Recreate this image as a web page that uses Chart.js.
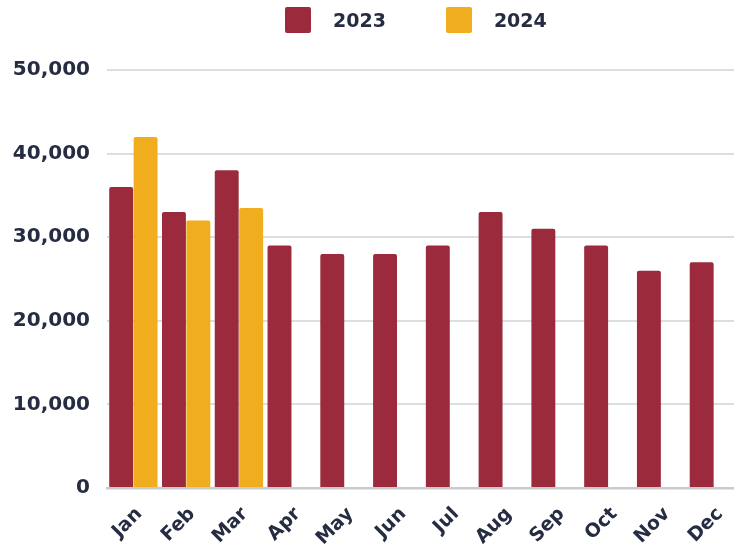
<!DOCTYPE html>
<html>
<head>
<meta charset="utf-8">
<script src="https://cdn.jsdelivr.net/npm/chart.js@4"></script>
<style>
  html, body { margin: 0; padding: 0; background: #fff; overflow: hidden; }
  #wrap { position: absolute; left: 0; top: 0; width: 745px; height: 548px; }
  #legend {
    position: absolute; left: 285px; top: 7px; display: flex; align-items: center;
    font: bold 19px "DejaVu Sans", sans-serif; color: #262d43;
  }
  #legend .item { display: flex; align-items: center; margin-right: 60px; }
  #legend .box { width: 26px; height: 26px; border-radius: 2px; margin-right: 22px; }
</style>
</head>
<body>
<div id="wrap"><canvas id="chart"></canvas></div>
<div id="legend"></div>
<script>
const months = ["Jan", "Feb", "Mar", "Apr", "May", "Jun", "Jul", "Aug", "Sep", "Oct", "Nov", "Dec"]
const sales2023 = [36000, 33000, 38000, 29000, 28000, 28000, 29000, 33000, 31000, 29000, 26000, 27000]
const sales2024 = [42000, 32000, 33500]
const yTicks = [0, 10000, 20000, 30000, 40000, 50000]

const MAROON = "#9b2b3c"
const GOLD = "#f0ad1e"
const TEXT = "#262d43"
const family = "'DejaVu Sans', sans-serif"

const chart = new Chart(document.getElementById("chart"), {
  type: "bar",
  data: {
    labels: months,
    datasets: [
      { label: "2023", data: sales2023, backgroundColor: MAROON },
      { label: "2024", data: sales2024, backgroundColor: GOLD },
    ],
  },
  options: {
    responsive: true,
    maintainAspectRatio: false,
    animation: false,
    categoryPercentage: 0.925,
    barPercentage: 0.98,
    borderRadius: 2,
    layout: { padding: { top: 70, right: 0, bottom: 0, left: 0 } },
    plugins: {
      legend: { display: false },
      tooltip: { enabled: false },
    },
    scales: {
      x: {
        grid: { display: false, drawTicks: false },
        border: { display: true, color: "#c9cbd3", width: 2.5 },
        ticks: {
          color: TEXT,
          font: { family, size: 19, weight: "bold" },
          maxRotation: 45,
          minRotation: 45,
          padding: 15,
          labelOffset: 6,
        },
        afterFit: (s) => { s.height = 60 },
      },
      y: {
        min: 0,
        max: 50000,
        afterBuildTicks: (s) => { s.ticks = yTicks.map((v) => ({ value: v })) },
        grid: { color: "#dddee3", lineWidth: 2, drawTicks: false },
        border: { display: false },
        ticks: {
          color: TEXT,
          font: { family, size: 20, weight: "bold" },
          padding: 17,
          callback: (v) => v.toLocaleString("en-US"),
        },
        afterFit: (s) => { s.width = 107 },
      },
    },
  },
})

// html legend built from the datasets
const legend = document.getElementById("legend")
chart.data.datasets.forEach((ds) => {
  const item = document.createElement("div")
  item.className = "item"
  const box = document.createElement("span")
  box.className = "box"
  box.style.background = ds.backgroundColor
  const label = document.createElement("span")
  label.textContent = ds.label
  item.append(box, label)
  legend.append(item)
})
</script>
</body>
</html>
